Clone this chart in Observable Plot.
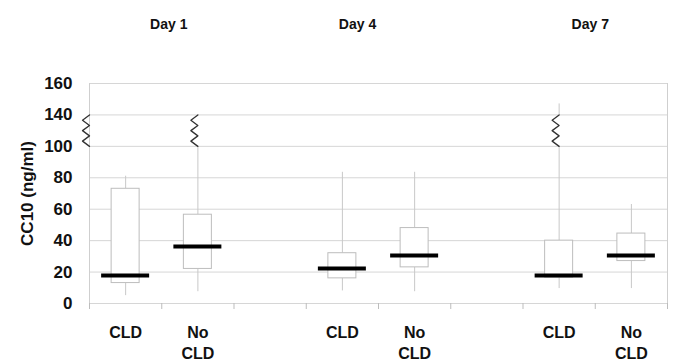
<!DOCTYPE html>
<html><head><meta charset="utf-8">
<script src="https://cdn.jsdelivr.net/npm/d3@7"></script>
<script src="https://cdn.jsdelivr.net/npm/@observablehq/plot@0.6"></script>
<style>body{margin:0;background:#fff;} #chart svg{display:block;}</style>
</head><body><div id="chart"></div>
<script>
// ---- data ----
const xSlots = ["Day 1|CLD","Day 1|No CLD","gap 1","Day 4|CLD","Day 4|No CLD","gap 2","Day 7|CLD","Day 7|No CLD"];
const days   = ["Day 1","Day 1","Day 4","Day 4","Day 7","Day 7"];
const groups = ["CLD","No CLD","CLD","No CLD","CLD","No CLD"];
const lowWhisker  = [5, 7.5, 8, 7.5, 9.5, 9.5];
const q1          = [13, 22, 16, 23, 16.5, 27];
const median      = [17.8, 36.2, 22.3, 30.6, 17.8, 30.6];
const q3          = [73, 56.5, 32, 48, 40, 44.5];
const highWhisker = [81, 140, 83.5, 83.5, 147, 63];
const yTickValues = [0, 20, 40, 60, 80, 100, 140, 160];
const axisBreak   = [100, 140];
const dayTitles   = ["Day 1", "Day 4", "Day 7"];

// broken axis: tick values equally spaced
const brk = d3.scaleLinear().domain(yTickValues).range(d3.range(yTickValues.length));
const rows = days.map((d, i) => ({
  day: d, group: groups[i], label: groups[i].replace(" ", "\n"),
  pos: xSlots.indexOf(d + "|" + groups[i]) + 0.5,
  low: lowWhisker[i], q1: q1[i], med: median[i], q3: q3[i], high: highWhisker[i]
}));

const W = 675, H = 362, mL = 89, mR = 8, mT = 83, mB = 59;
const pxPerUnit = (W - mL - mR) / xSlots.length;
const zigOff = [0, -7, 0, -7, 0, -7, 0];
function zig(x0, key) {
  return zigOff.map((o, k) => ({key, x: x0 + o / pxPerUnit,
    y: brk(axisBreak[1]) - k / (zigOff.length - 1) * (brk(axisBreak[1]) - brk(axisBreak[0]))}));
}
const zigData = [...zig(0, "axis"), ...rows.filter(r => r.high > axisBreak[0]).flatMap(r => zig(r.pos, r.day + r.group))];

const font = "'Liberation Sans', Arial, Helvetica, sans-serif";
const titleNudge = [7, -21, -5];

const chart = Plot.plot({
  width: W, height: H,
  marginLeft: mL, marginRight: mR, marginTop: mT, marginBottom: mB,
  style: {fontFamily: font, background: "#fff", color: "#111"},
  x: {domain: [0, xSlots.length], axis: null},
  y: {domain: [0, yTickValues.length - 1], axis: null},
  marks: [
    Plot.ruleY(d3.range(yTickValues.length), {stroke: "#d6d6d6", strokeWidth: 1}),
    Plot.ruleX([0, xSlots.length], {stroke: "#cfcfcf"}),
    Plot.axisX({ticks: d3.range(xSlots.length + 1), tickFormat: () => "", tickSize: 6, stroke: "#bdbdbd"}),
    Plot.axisY({ticks: d3.range(yTickValues.length), tickFormat: i => yTickValues[i], tickSize: 0, tickPadding: 17,
      fontSize: 17, fontWeight: "bold", label: null}),
    // whiskers
    Plot.ruleX(rows, {x: "pos", y1: d => brk(d.low), y2: d => brk(d.q1), stroke: "#c8c8c8"}),
    Plot.ruleX(rows, {x: "pos", y1: d => brk(d.q3), y2: d => brk(Math.min(d.high, axisBreak[0])), stroke: "#c8c8c8"}),
    Plot.ruleX(rows.filter(d => d.high > axisBreak[1]), {x: "pos", y1: brk(axisBreak[1]), y2: d => brk(d.high), stroke: "#c8c8c8"}),
    // boxes
    Plot.rect(rows, {x1: d => d.pos - 14 / pxPerUnit, x2: d => d.pos + 14 / pxPerUnit,
      y1: d => brk(d.q1), y2: d => brk(d.q3), fill: "#fff", stroke: "#bdbdbd", strokeWidth: 1}),
    // medians
    Plot.ruleY(rows, {y: d => brk(d.med), x1: d => d.pos - 24 / pxPerUnit, x2: d => d.pos + 24 / pxPerUnit,
      stroke: "#000", strokeWidth: 4}),
    // break symbols
    Plot.line(zigData, {x: "x", y: "y", z: "key", stroke: "#333", strokeWidth: 1.3, curve: "linear"}),
    // category labels
    Plot.text(rows, {x: "pos", text: "label", frameAnchor: "bottom", lineAnchor: "top", dy: 19,
      fontSize: 16, fontWeight: "bold", lineHeight: 1.35, fill: "#111"}),
    // day titles
    ...dayTitles.map((t, i) => Plot.text([t], {
      x: d3.mean(rows.filter(r => r.day === t), r => r.pos), text: d => d,
      frameAnchor: "top", dy: -64, dx: titleNudge[i], fontSize: 14, fontWeight: "bold", fill: "#111"})),
    // y label
    Plot.text(["CC10 (ng/ml)"], {text: d => d, frameAnchor: "left", textAnchor: "middle", rotate: -90, dx: -62,
      fontSize: 17, fontWeight: "bold", fill: "#111"})
  ]
});
document.getElementById("chart").append(chart);
</script>
</body></html>
